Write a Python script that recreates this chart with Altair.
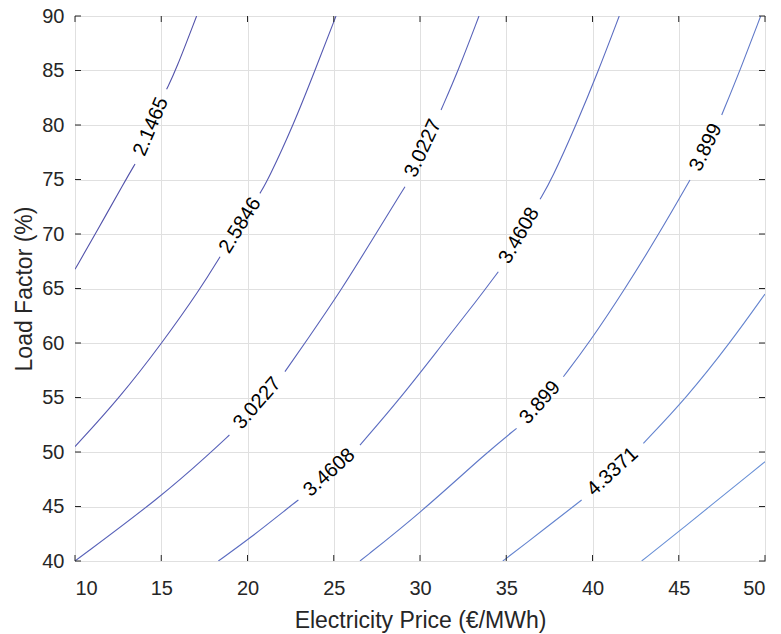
import altair as alt
import pandas as pd

# ---- data ----
levels = ["2.1465", "2.5846", "3.0227", "3.4608", "3.899", "4.3371", "4.7752"]
level_colors = ["#5252aa", "#5559b2", "#5862b9", "#5b6cc1", "#5f78c8", "#6484cf", "#6990d6"]

# each contour: list of segments (x values, y values); gaps are where labels sit
c_2_1465 = [([10, 11.18, 12.95, 13.48], [66.76, 70, 75, 76.42]),
            ([15.31, 15.84, 17.05], [83.27, 85, 90])]
c_2_5846 = [([10, 12.60, 15.05, 17.28, 18.41], [50.49, 55, 60, 65, 67.92]),
            ([20.72, 21.2, 22.66, 23.91, 25.13], [73.73, 75, 80, 85, 90])]
c_3_0227 = [([10, 15, 17.9, 18.95], [40, 45.9, 50, 51.56]),
            ([22.17, 23.33, 25.5, 27.43, 29.13], [57.37, 60, 65, 70, 74.34]),
            ([31.22, 32.22, 33.42], [81.38, 85, 90])]
c_3_4608 = [([18.31, 20.14, 22.46, 22.95], [40, 42.08, 45, 45.6]),
            ([26.52, 28.9, 31.35, 33.3, 34.54], [50.64, 55, 60, 63.9, 66.54]),
            ([36.96, 37.63, 39.05, 40.35, 41.55], [73.18, 75, 80, 85, 90])]
c_3_899 = [([26.52, 30, 33.9, 35.6], [40, 44.37, 50, 52.17]),
           ([38.31, 39.8, 41.9, 43.85, 45.65], [56.9, 60, 65, 70, 74.95]),
           ([47.49, 48.55, 49.75], [80.92, 85, 90])]
c_4_3371 = [([34.8, 35.8, 39.37], [40, 41.2, 45.6]),
            ([42.95, 45.46, 47.97, 50], [50.8, 55, 60, 64.5])]
c_4_7752 = [([42.85, 45, 50], [40, 42.7, 49.11])]
contours = [c_2_1465, c_2_5846, c_3_0227, c_3_4608, c_3_899, c_4_3371, c_4_7752]

label_text = ["2.1465", "2.5846", "3.0227", "3.0227", "3.4608", "3.4608", "3.899", "3.899", "4.3371"]
label_x = [14.40, 19.57, 20.56, 30.18, 24.74, 35.75, 36.96, 46.57, 41.16]
label_y = [79.85, 70.80, 54.47, 77.86, 48.12, 69.86, 54.54, 77.94, 48.20]
label_angle = [293, 302, 311, 295, 318, 300, 312, 296, 317.5]

x_ticks = [10, 15, 20, 25, 30, 35, 40, 45, 50]
y_ticks = [40, 45, 50, 55, 60, 65, 70, 75, 80, 85, 90]

# ---- build tables ----
rows = []
for lev, segs in zip(levels, contours):
    for si, (xs_, ys_) in enumerate(segs):
        for k, (xv, yv) in enumerate(zip(xs_, ys_)):
            rows.append({"level": lev, "seg": f"{lev}-{si}", "k": k, "x": xv, "y": yv})
lines_df = pd.DataFrame(rows)
labels_df = pd.DataFrame({"x": label_x, "y": label_y, "t": label_text, "a": label_angle})
xt_df = pd.DataFrame({"v": x_ticks})
yt_df = pd.DataFrame({"v": y_ticks})

FONT = "Liberation Sans"
W, H = 690, 545
xs = alt.Scale(domain=[10, 50], nice=False, zero=False)
ys = alt.Scale(domain=[40, 90], nice=False, zero=False)

x_axis = alt.Axis(values=x_ticks, grid=True, gridColor="#e0e0e0", domain=False, ticks=False, tickSize=0,
                  labelFontSize=20, labelPadding=17, labelColor="#262626", labelFont=FONT,
                  title="Electricity Price (€/MWh)", titleFontSize=23, titleFontWeight="normal",
                  titleColor="#262626", titleFont=FONT, titleX=W / 2, titleY=66,
                  titleBaseline="alphabetic")
y_axis = alt.Axis(values=y_ticks, grid=True, gridColor="#e0e0e0", domain=False, ticks=False, tickSize=0,
                  labelFontSize=20, labelPadding=11, labelColor="#262626", labelFont=FONT,
                  title="Load Factor (%)", titleFontSize=23, titleFontWeight="normal",
                  titleColor="#262626", titleFont=FONT, titleX=-51, titleY=H / 2,
                  titleBaseline="middle", titleAngle=270)

lines = alt.Chart(lines_df).mark_line(strokeWidth=1.1, interpolate="basis", clip=True).encode(
    x=alt.X("x:Q", scale=xs, axis=x_axis),
    y=alt.Y("y:Q", scale=ys, axis=y_axis),
    detail="seg:N",
    order="k:Q",
    color=alt.Color("level:N", scale=alt.Scale(domain=levels, range=level_colors), legend=None),
)

labels = alt.Chart(labels_df).mark_text(font=FONT, fontSize=20, color="#000000",
                                        align="center", baseline="middle").encode(
    x=alt.X("x:Q", scale=xs),
    y=alt.Y("y:Q", scale=ys),
    text="t:N",
    angle=alt.Angle("a:Q", scale=None),
)

tick_color = "#262626"
xb = alt.Chart(xt_df).mark_rule(color=tick_color, strokeWidth=1).encode(
    x=alt.X("v:Q", scale=xs), y=alt.value(H), y2=alt.value(H - 6))
xtop = alt.Chart(xt_df).mark_rule(color=tick_color, strokeWidth=1).encode(
    x=alt.X("v:Q", scale=xs), y=alt.value(0), y2=alt.value(6))
yl = alt.Chart(yt_df).mark_rule(color=tick_color, strokeWidth=1).encode(
    y=alt.Y("v:Q", scale=ys), x=alt.value(0), x2=alt.value(6))
yr = alt.Chart(yt_df).mark_rule(color=tick_color, strokeWidth=1).encode(
    y=alt.Y("v:Q", scale=ys), x=alt.value(W), x2=alt.value(W - 6))

chart = alt.layer(lines, labels, xb, xtop, yl, yr).properties(
    width=W, height=H,
    padding={"left": 75, "top": 16, "right": 16, "bottom": 73},
    autosize=alt.AutoSizeParams(type="none"),
    background="white",
).configure_view(stroke="#262626", strokeWidth=1)

chart.save("out.html", embed_options={"renderer": "svg", "actions": False})
